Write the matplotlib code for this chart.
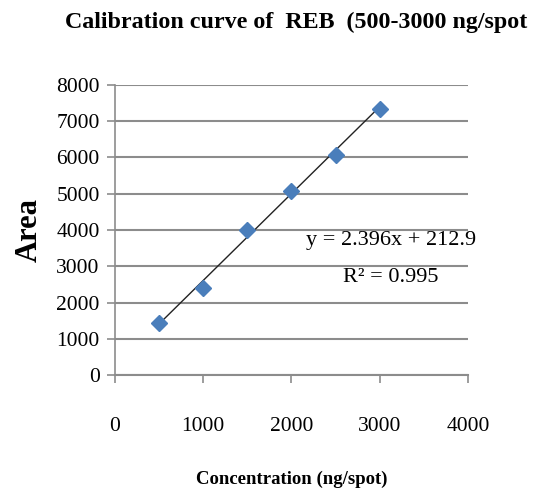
import matplotlib.pyplot as plt
import numpy as np

# data
conc = [500, 1000, 1500, 2000, 2500, 3000]
area = [1430, 2400, 4010, 5070, 6060, 7340]

# trendline as printed on the chart
slope = 2.396
intercept = 212.9
r2 = 0.995

x_ticks = [0, 1000, 2000, 3000, 4000]
y_ticks = [0, 1000, 2000, 3000, 4000, 5000, 6000, 7000, 8000]

plt.rcParams['font.family'] = ['Liberation Serif', 'DejaVu Serif']

fig = plt.figure(figsize=(5.36, 4.95), dpi=100)
ax = fig.add_axes([0.2146, 0.2424, 0.6584, 0.5859])

grid_col = '#8c8c8c'

# trendline
xs = np.array([conc[0], conc[-1]])
ax.plot(xs, slope * xs + intercept, color='#222222', lw=1.0, zorder=2)

# points
ax.plot(conc, area, linestyle='none', marker='D', ms=8.5,
        color='#4a7ebb', markeredgecolor='#4a7ebb', zorder=3)

ax.set_xlim(0, 4000)
ax.set_ylim(0, 8000)
ax.set_xticks(x_ticks)
ax.set_yticks(y_ticks)
ax.yaxis.grid(True, color=grid_col, lw=1.5)
ax.set_axisbelow(True)

for s in ['top', 'right']:
    ax.spines[s].set_visible(False)
ax.spines['left'].set_color(grid_col)
ax.spines['bottom'].set_color(grid_col)
ax.spines['left'].set_linewidth(1.2)
ax.spines['bottom'].set_linewidth(1.5)
ax.tick_params(axis='both', direction='out', length=6, width=1.2,
               color=grid_col, labelsize=15.5)
ax.tick_params(axis='x', pad=24)
ax.tick_params(axis='y', pad=5)

ax.text(3130, 3720, 'y = 2.396x + 212.9', fontsize=16, ha='center', va='center')
ax.text(3130, 2700, 'R² = %.3f' % r2, fontsize=16, ha='center', va='center')

ax.set_xlabel('Concentration (ng/spot)', fontsize=13.5, fontweight='bold', labelpad=25)
ax.set_ylabel('Area', fontsize=22, fontweight='bold', labelpad=9)

fig.text(65 / 536, 1 - 22 / 495, 'Calibration curve of  REB  (500-3000 ng/spot',
         fontsize=17.3, fontweight='bold', ha='left', va='center')

fig.savefig('out.png', dpi=100)
